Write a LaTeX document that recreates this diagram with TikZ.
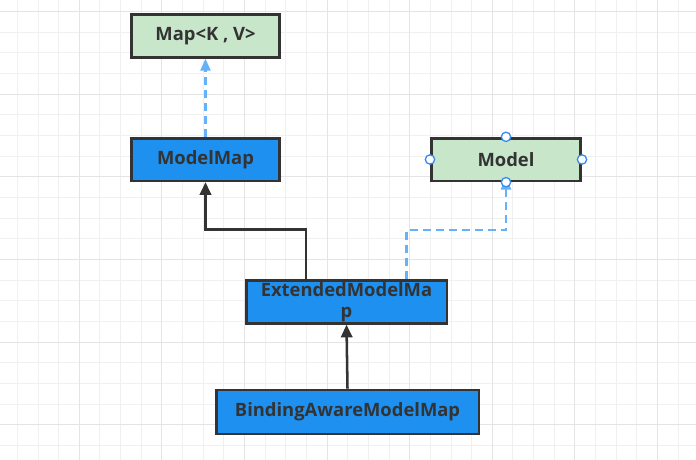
\documentclass[tikz,border=0pt]{standalone}
\usepackage{fontspec}
\setmainfont{Open Sans}
\usetikzlibrary{arrows.meta,positioning,calc}

\definecolor{gridminor}{RGB}{240,240,240}
\definecolor{gridmajor}{RGB}{228,228,228}
\definecolor{boxline}{RGB}{51,51,51}
\definecolor{classfill}{RGB}{30,144,240}
\definecolor{ifacefill}{RGB}{200,230,201}
\definecolor{impline}{RGB}{102,178,250}
\definecolor{handleline}{RGB}{58,140,240}

\tikzset{
  umlbox/.style={draw=boxline, line width=2pt, text=boxline, align=center,
    font=\fontsize{13.8}{16}\selectfont\bfseries, inner sep=0pt, minimum height=32pt},
  classbox/.style={umlbox, fill=classfill},
  ifacebox/.style={umlbox, fill=ifacefill},
  inh/.style={draw=boxline, line width=1.9pt, -{Triangle[length=9.5pt,width=8.5pt]}},
  impl/.style={draw=impline, line width=1.7pt, dash pattern=on 6pt off 3.75pt,
    -{Triangle[length=9pt,width=7.5pt]}},
  handle/.style={circle, draw=handleline, fill=white, line width=1pt,
    inner sep=0pt, minimum size=7pt},
}

\begin{document}
\begin{tikzpicture}[x=0.75pt,y=0.75pt,yscale=-1,xscale=1]
	\useasboundingbox (0,0) rectangle (696,460);
	\fill[white] (0,0) rectangle (696,460);

	% grid
	\foreach \i in {0,...,32}
		\draw[gridminor, line width=0.75pt] ({17.35+\i*20.65},0) -- ++(0,460);
	\foreach \j in {0,...,21}
		\draw[gridminor, line width=0.75pt] (0,{11.7+\j*20.65}) -- ++(696,0);
	\foreach \i in {3,7,...,31}
		\draw[gridmajor, line width=0.75pt] ({17.35+\i*20.65},0) -- ++(0,460);
	\foreach \j in {0,4,...,20}
		\draw[gridmajor, line width=0.75pt] (0,{11.7+\j*20.65}) -- ++(696,0);

	% classes
	\node[ifacebox, minimum width=111pt] (map) at (205.5,36) {Map<K , V>};
	\node[classbox, minimum width=111pt] (modelmap) at (205.5,159.5) {ModelMap};
	\node[ifacebox, minimum width=112pt] (model) at (506,159.5) {Model};
	\node[classbox, minimum width=150.5pt] (extmap) at (346.5,302) {ExtendedModelMa\\p};
	\node[classbox, minimum width=197pt, minimum height=33pt] (bindmap) at (347.5,412) {BindingAwareModelMap};

	% relations
	\draw[impl] (modelmap.north) -- (map.south);
	\draw[inh] ([xshift=-30.5pt]extmap.north) -- ++(0,-50) -| (modelmap.south);
	\draw[impl] ([xshift=45pt]extmap.north) -- ++(0,-49) -| ([yshift=-3.5pt]model.south);
	\draw[inh] (bindmap.north) -- (extmap.south);

	% selection handles
	\foreach \a in {north,east,west}
		\node[handle] at (model.\a) {};
	\node[handle] at (model.south) {};
\end{tikzpicture}
\end{document}
